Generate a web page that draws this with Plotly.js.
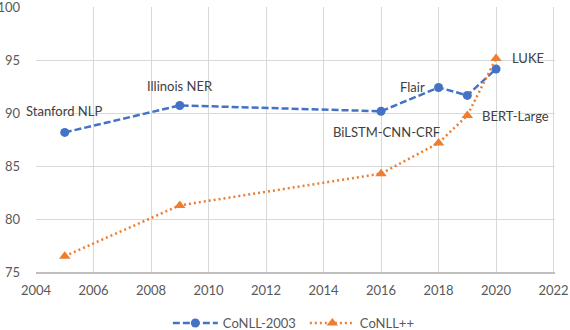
<!DOCTYPE html>
<html>
<head>
<meta charset="utf-8">
<script src="https://cdn.plot.ly/plotly-3.0.1.min.js"></script>
<style>html,body{margin:0;padding:0;background:#fff;}#chart{width:570px;height:330px;}</style>
</head>
<body>
<div id="chart"></div>
<script>
// Data
const years = [2005, 2009, 2016, 2018, 2019, 2020];
const conll2003 = [88.2, 90.75, 90.2, 92.45, 91.7, 94.2];
const conllpp = [76.5, 81.3, 84.3, 87.2, 89.8, 95.2];
const seriesNames = ['CoNLL-2003', 'CoNLL++'];
const xTicks = [2004, 2006, 2008, 2010, 2012, 2014, 2016, 2018, 2020, 2022];
const yTicks = [75, 80, 85, 90, 95, 100];
// labels: [text, series index, point index]
const labelTexts = ['Stanford NLP', 'Illinois NER', 'BiLSTM-CNN-CRF', 'Flair', 'BERT-Large', 'LUKE'];
const labelSeries = [0, 0, 0, 0, 1, 1];
const labelPoint = [0, 1, 2, 3, 4, 5];

const FONT = 'Lato, "Open Sans", sans-serif';
const seriesY = [conll2003, conllpp];
// label placement styles
const labelStyle = [
  {xanchor: 'center', xshift: -1, yshift: 21},
  {xanchor: 'center', xshift: 0, yshift: 19},
  {xanchor: 'center', xshift: 5, yshift: -21},
  {xanchor: 'right', xshift: -12, yshift: 0},
  {xanchor: 'left', xshift: 13, yshift: 0},
  {xanchor: 'left', xshift: 14, yshift: 0}
];

const traces = [
  {
    x: years, y: conll2003, name: seriesNames[0], type: 'scatter', mode: 'lines+markers',
    line: {color: '#4472C4', width: 2.5, dash: '7px,3px'},
    marker: {color: '#4472C4', size: 9, symbol: 'circle'}
  },
  {
    x: years, y: conllpp, name: seriesNames[1], type: 'scatter', mode: 'lines+markers',
    line: {color: '#ED7D31', width: 2.5, dash: '2px,3px'},
    marker: {color: '#ED7D31', size: 10, symbol: 'triangle-up'}
  }
];

const annotations = labelTexts.map((t, i) => Object.assign({
  x: years[labelPoint[i]], y: seriesY[labelSeries[i]][labelPoint[i]],
  xref: 'x', yref: 'y', text: t, showarrow: false, yanchor: 'middle',
  font: {family: FONT, size: 13, color: '#404040'}
}, labelStyle[i]));

const layout = {
  width: 570, height: 330,
  margin: {l: 36, r: 15, t: 7, b: 58, autoexpand: false},
  paper_bgcolor: '#fff', plot_bgcolor: '#fff',
  font: {family: FONT, size: 13, color: '#595959'},
  showlegend: true,
  legend: {
    orientation: 'h', x: 0.518, xanchor: 'center', yref: 'container', y: 0.021, yanchor: 'middle',
    font: {family: FONT, size: 13, color: '#595959'}, itemwidth: 45, entrywidth: 77
  },
  xaxis: {
    range: [2004, 2022.05], tickvals: xTicks, ticktext: xTicks.map(String),
    showgrid: true, gridcolor: '#D9D9D9', gridwidth: 1,
    showline: true, linecolor: '#BFBFBF', linewidth: 1.5,
    zeroline: false, ticks: '', ticklabelstandoff: 6, ticklabeloverflow: 'allow', fixedrange: true
  },
  yaxis: {
    range: [75, 100.06], tickvals: yTicks, ticktext: yTicks.map(String),
    showgrid: true, gridcolor: '#D9D9D9', gridwidth: 1,
    showline: false, zeroline: false, ticks: '', ticklabelstandoff: 15, ticklabeloverflow: 'allow', fixedrange: true
  },
  annotations: annotations
};

Plotly.newPlot('chart', traces, layout, {displayModeBar: false, staticPlot: true});
</script>
</body>
</html>
